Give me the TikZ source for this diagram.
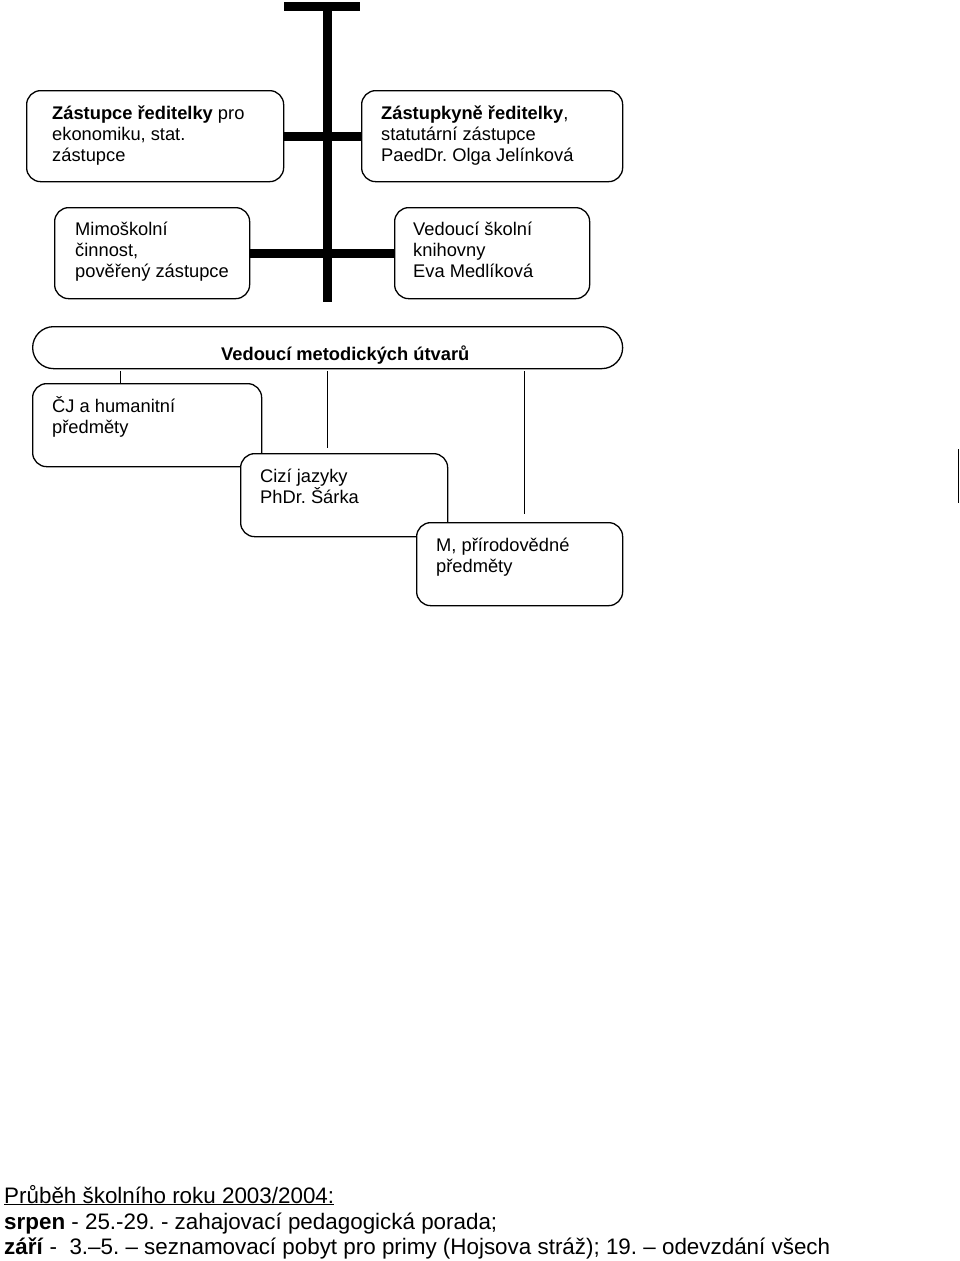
\documentclass[tikz,border=0pt]{standalone}
\usepackage{fontspec}
\setmainfont{Liberation Sans}
\frenchspacing
\begin{document}
\begin{tikzpicture}[x=1pt,y=-1pt,
  box/.style={draw, line width=1.3pt, rounded corners=14pt, fill=white, anchor=north west, inner sep=0pt},
  bar/.style={line width=9pt, line cap=butt},
  thinline/.style={line width=1.2pt},
  lbl/.style={anchor=base west, inner sep=0pt, align=left, font=\fontsize{18.3}{21}\selectfont},
  foot/.style={anchor=base west, inner sep=0pt, font=\fontsize{22.4}{25}\selectfont}]
\useasboundingbox (0,0) rectangle (960,1261);
% trunk
\coordinate (tl) at (284,6.5);
\coordinate (tr) at (360,6.5);
\coordinate (ttop) at (327.5,6.5);
\coordinate (tbot) at (327.5,302);
\draw[bar] (tl) -- (tr);
\draw[bar] (ttop) -- (tbot);
% top boxes
\node[box, minimum width=257pt, minimum height=91pt] (zr) at (26,90) {};
\node[box, minimum width=261pt, minimum height=91pt] (zs) at (361,90) {};
\draw[bar] (zr.east) -- (zs.west);
\node[lbl] (zrt) at (52,161.5) {\textbf{Zástupce ředitelky} pro\\ekonomiku, stat.\\zástupce};
\node[lbl] (zst) at (381,161.5) {\textbf{Zástupkyně ředitelky}, \\statutární zástupce\\PaedDr. Olga Jelínková};
% second row
\node[box, minimum width=195pt, minimum height=91pt] (mc) at (54,207) {};
\node[box, minimum width=195pt, minimum height=91pt] (vk) at (394,207) {};
\draw[bar] (mc.east) -- (vk.west);
\node[lbl] (mct) at (75,277) {Mimoškolní\\činnost,\\pověřený zástupce};
\node[lbl] (vkt) at (413,277) {Vedoucí školní\\knihovny\\Eva Medlíková};
% oval
\node[draw, line width=1.3pt, rounded corners=21pt, fill=white, anchor=north west, inner sep=0pt,
  minimum width=590pt, minimum height=42pt] (vm) at (32,326) {};
\node[lbl, font=\fontsize{18.3}{21}\selectfont\bfseries] (vmt) at (221,360) {Vedoucí metodických útvarů};
% thin lines
\coordinate (l1) at (120.5,371);
\coordinate (l2) at (327.5,371);
\coordinate (l2e) at (327.5,448);
\coordinate (l3) at (524.5,371);
\coordinate (l3e) at (524.5,514);
% subject boxes
\node[box, minimum width=229pt, minimum height=83pt] (cj) at (32,383) {};
\draw[thinline] (l1) -- (l1 |- cj.north);
\draw[thinline] (l2) -- (l2e);
\draw[thinline] (l3) -- (l3e);
\node[box, minimum width=207pt, minimum height=83pt] (cz) at (240,453) {};
\node[box, minimum width=206pt, minimum height=83pt] (mp) at (416,522) {};
\node[lbl] (cjt) at (52,433) {ČJ a humanitní\\předměty};
\node[lbl] (czt) at (260,503) {Cizí jazyky\\PhDr. Šárka};
\node[lbl] (mpt) at (436,572) {M, přírodovědné\\předměty};
% right edge line
\coordinate (r1) at (958.5,449);
\coordinate (r2) at (958.5,503);
\draw[line width=1.6pt] (r1) -- (r2);
% footer
\node[foot] (f1) at (4,1203) {\underline{Průběh školního roku 2003/2004:}};
\node[foot] (f2) at (4,1229) {\textbf{srpen} - 25.-29. - zahajovací pedagogická porada;};
\node[foot] (f3) at (4,1254) {\textbf{září} -\ \ 3.–5. – seznamovací pobyt pro primy (Hojsova stráž); 19. – odevzdání všech};
\end{tikzpicture}
\end{document}
